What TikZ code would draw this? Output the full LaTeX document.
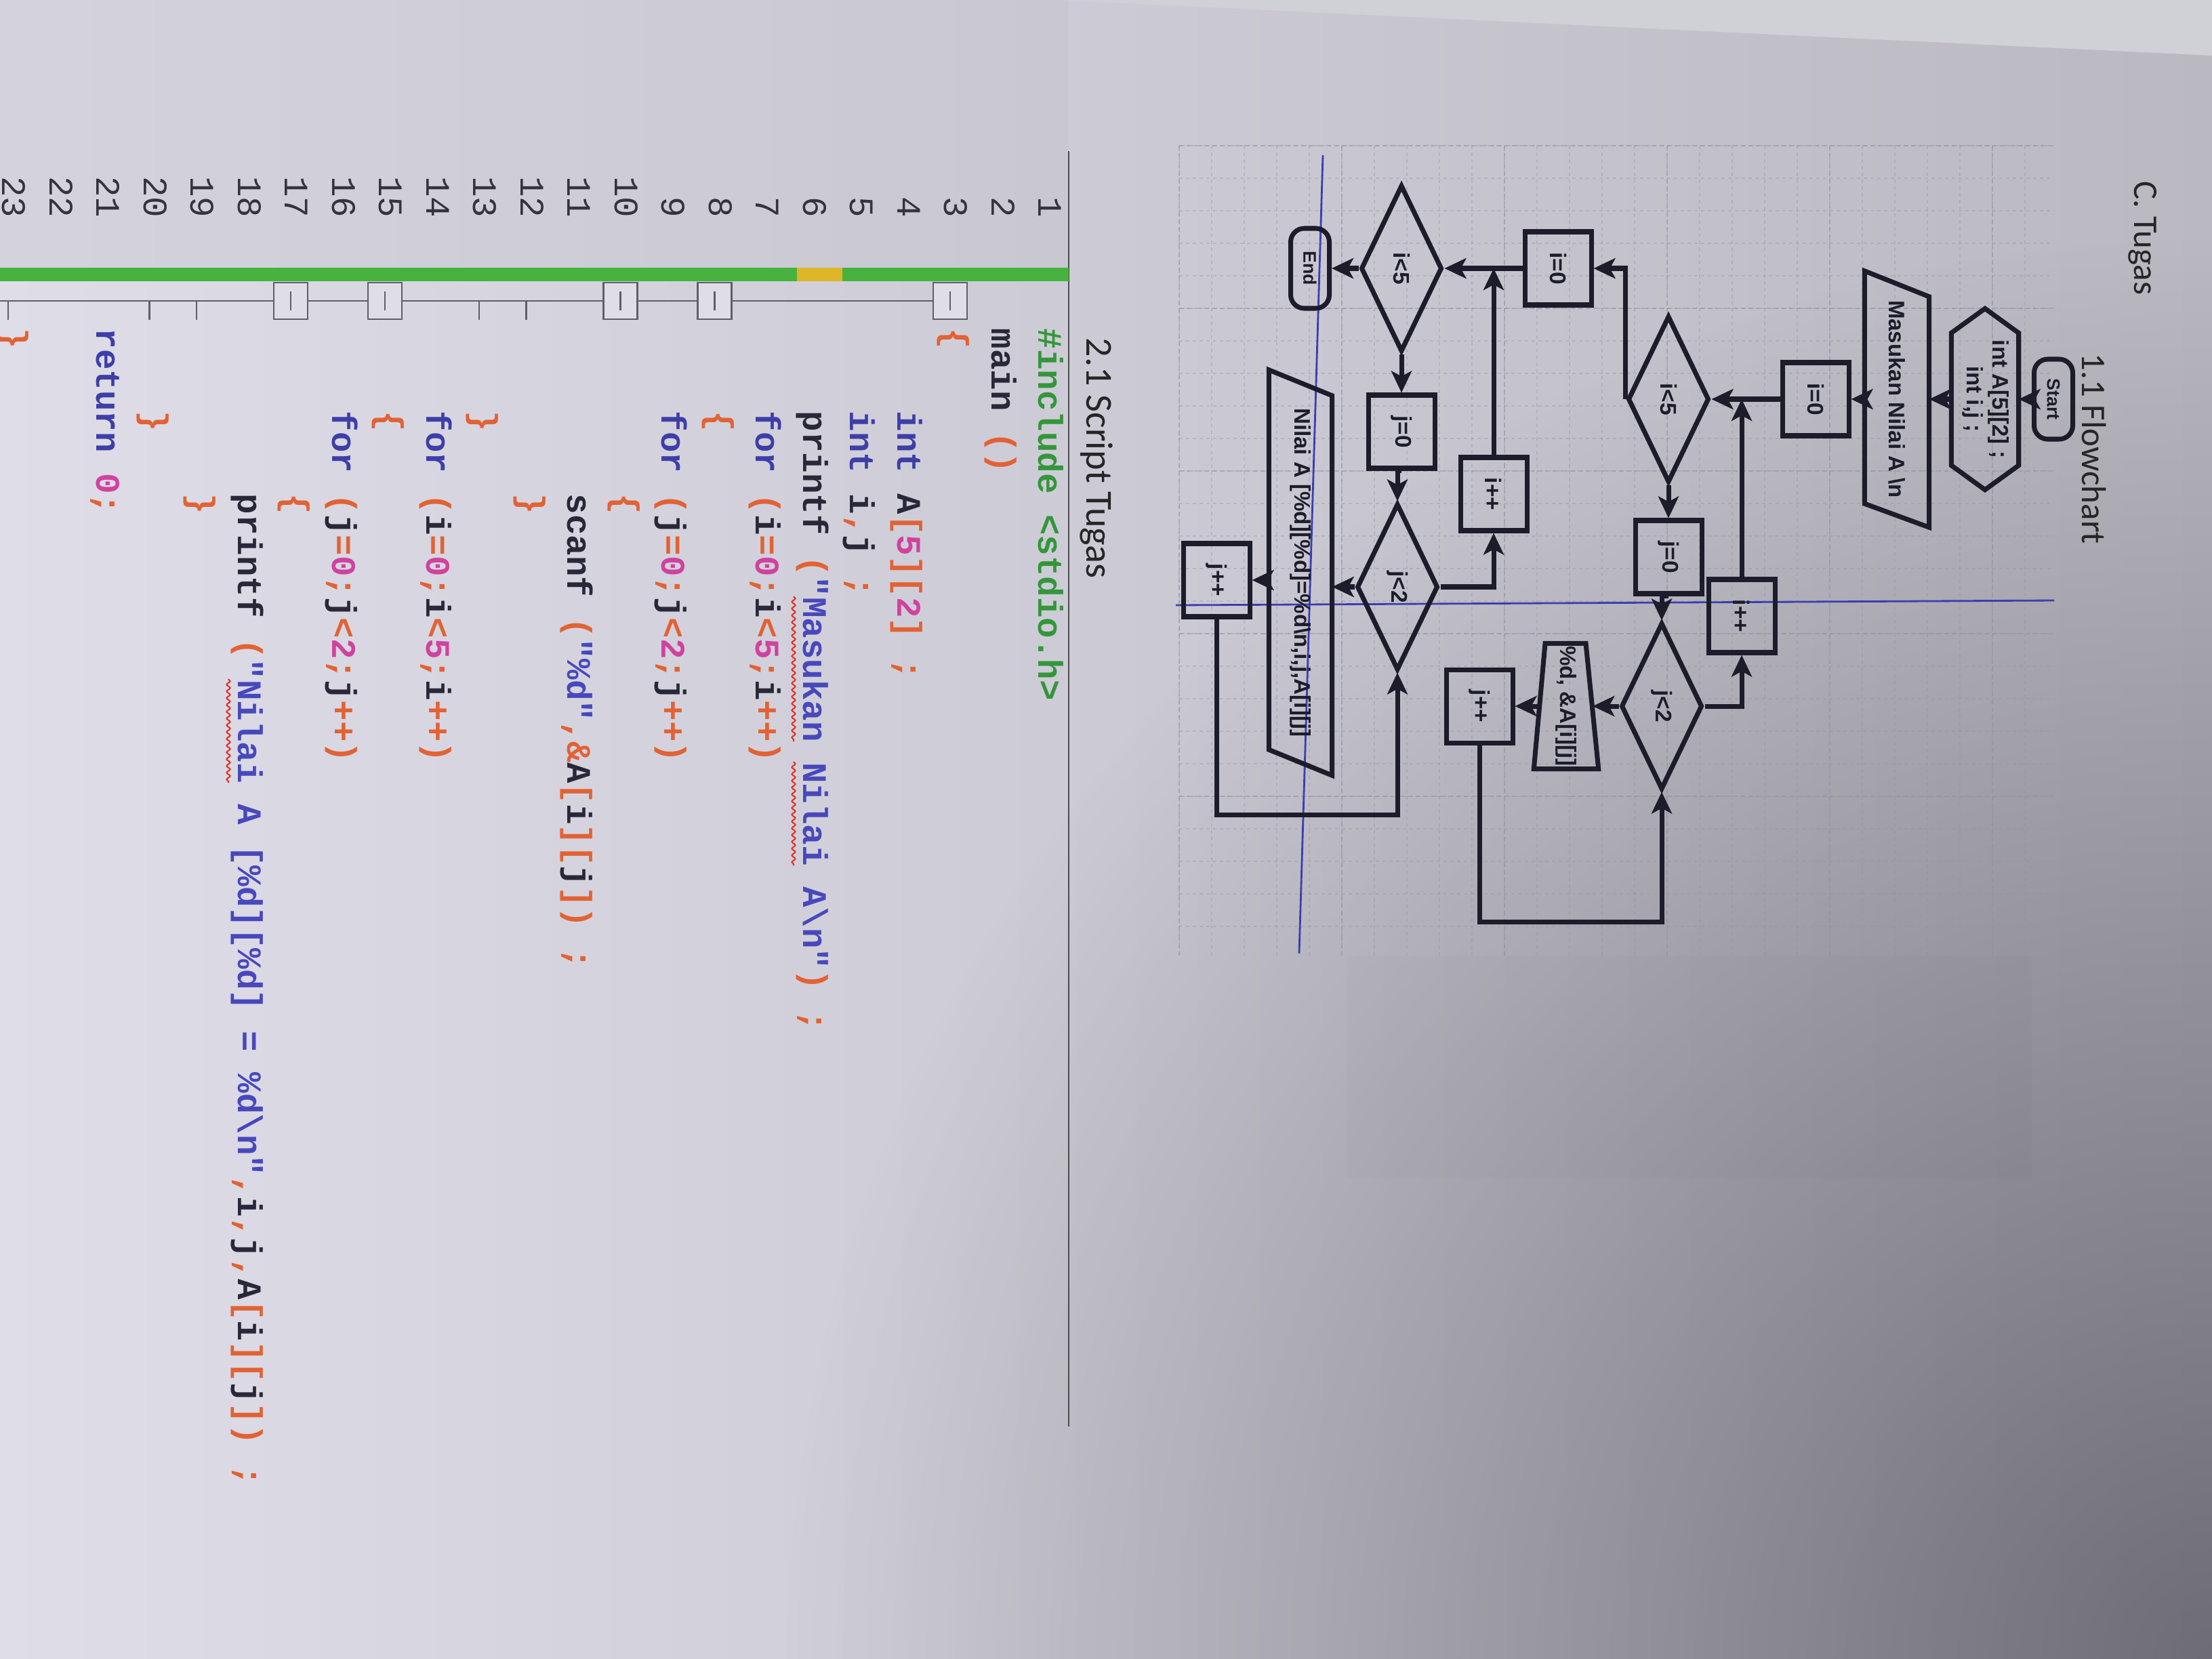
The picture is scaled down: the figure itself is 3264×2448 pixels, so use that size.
\documentclass[tikz,border=0pt]{standalone}
\usepackage{fontspec}
\setmainfont{Carlito}
\newfontfamily\flowfont{Liberation Sans}
\newfontfamily\codefont{Liberation Mono}
\usetikzlibrary{shapes.geometric,arrows.meta,fadings,decorations.pathmorphing}

\definecolor{paperL}{RGB}{222,221,232}
\definecolor{paperM}{RGB}{207,206,216}
\definecolor{paperR}{RGB}{186,185,194}
\definecolor{offpage}{RGB}{208,208,215}
\definecolor{gutterc}{RGB}{196,195,203}
\definecolor{shadowc}{RGB}{60,58,66}
\definecolor{ink}{RGB}{28,28,42}
\definecolor{guide}{RGB}{60,62,175}
\definecolor{gridc}{RGB}{145,145,160}
\definecolor{cbgreen}{RGB}{72,178,62}
\definecolor{cbyellow}{RGB}{222,182,40}
\definecolor{cpre}{RGB}{52,150,58}
\definecolor{ckw}{RGB}{62,62,168}
\definecolor{cid}{RGB}{40,40,56}
\definecolor{cop}{RGB}{226,98,52}
\definecolor{cnum}{RGB}{208,66,158}
\definecolor{cstr}{RGB}{72,72,188}
\definecolor{lnumc}{RGB}{52,52,62}
\definecolor{foldc}{RGB}{95,95,105}
\definecolor{squig}{RGB}{222,52,40}

\tikzfading[name=fadeBR, inner color=transparent!0, outer color=transparent!100]

\newcommand\cKw[1]{\textcolor{ckw}{#1}}
\newcommand\cOp[1]{\textcolor{cop}{#1}}
\newcommand\cNum[1]{\textcolor{cnum}{#1}}
\newcommand\cStr[1]{\textcolor{cstr}{#1}}
\newcommand\cId[1]{\textcolor{cid}{#1}}
\newcommand\cPre[1]{\textcolor{cpre}{#1}}
\newcommand\vtext[1]{\rotatebox{-90}{#1}}

\begin{document}
\begin{tikzpicture}[x=0.1mm, y=-0.1mm,
  fbox/.style={draw=ink, line width=2pt, rectangle, minimum width=9.8mm, minimum height=10.8mm, inner sep=0pt, text=ink, font=\flowfont\bfseries\fontsize{9.5}{11.5}\selectfont},
  fdia/.style={draw=ink, line width=2pt, diamond, minimum width=12mm, minimum height=24.6mm, inner sep=0pt, text=ink, font=\flowfont\bfseries\fontsize{9.5}{11.5}\selectfont},
  fterm/.style={draw=ink, line width=2pt, rectangle, rounded corners=2mm, minimum width=5.7mm, minimum height=11.8mm, inner sep=0pt, text=ink, font=\flowfont\bfseries\fontsize{7.6}{9}\selectfont},
  fshape/.style={draw=none, rectangle, inner sep=0pt, text=ink, font=\flowfont\bfseries\fontsize{9.4}{10.6}\selectfont},
  fline/.style={draw=ink, line width=2pt, line join=miter},
  flow/.style={draw=ink, line width=2pt, -{Stealth[length=3.2mm, width=3mm, inset=0.8mm]}},
  guideline/.style={draw=guide, line width=0.8pt},
  gridminor/.style={draw=gridc, line width=0.35pt, opacity=0.33, dash pattern=on 0.5mm off 0.5mm},
  gridmajor/.style={draw=gridc, line width=0.45pt, opacity=0.45, dash pattern=on 0.8mm off 0.4mm},
  heading/.style={rotate=-90, anchor=base west, inner sep=0pt, text=black!85},
  codeline/.style={rotate=-90, anchor=mid west, inner sep=0pt, font=\codefont\bfseries\fontsize{14.46}{17}\selectfont},
  lnum/.style={rotate=-90, anchor=mid east, inner sep=0pt, text=lnumc, font=\codefont\fontsize{14.46}{17}\selectfont},
  foldbox/.style={draw=foldc, line width=0.6pt, fill=paperL, rectangle, minimum width=5mm, minimum height=5.4mm, inner sep=0pt},
  foldline/.style={draw=foldc, line width=0.6pt},
  squiggle/.style={draw=squig, line width=0.6pt, decorate, decoration={snake, amplitude=0.25mm, segment length=1mm}}
]
\useasboundingbox (0,0) rectangle (3264,2448);

% ---------- photo background ----------
\shade[left color=paperL, middle color=paperM, right color=paperR] (0,0) rectangle (3264,2448);
\fill[shadowc, fill opacity=0.6, path fading=fadeBR] (3264,2448) circle[radius=210mm];
\fill[offpage] (1560,0) -- (3264,0) -- (3264,82) -- cycle;
\fill[gutterc, fill opacity=0.35] (0,0) rectangle (1577,395);

% ---------- headings ----------
\node[heading, font=\fontsize{14.5}{17}\selectfont] (hC) at (3149,267) {C. Tugas};
\node[heading, font=\fontsize{14.5}{17}\selectfont] (hF) at (3072,521) {1.1 Flowchart};
\node[heading, font=\fontsize{16}{19}\selectfont] (hS) at (1603,498) {2.1 Script Tugas};

% ---------- flowchart canvas ----------
\fill[black, fill opacity=0.015] (1988,1410) rectangle (2998,1739);
\foreach \gx in {1740,1788,...,3030} \draw[gridminor] (\gx,215) -- (\gx,1410);
\foreach \gy in {215,263,...,1410} \draw[gridminor] (1740,\gy) -- (3030,\gy);
\foreach \gx in {1740,1980,...,3030} \draw[gridmajor] (\gx,215) -- (\gx,1410);
\foreach \gy in {215,455,...,1410} \draw[gridmajor] (1740,\gy) -- (3030,\gy);

% guide lines
\coordinate (gh1) at (1735,893);
\coordinate (gh2) at (3031,886);
\coordinate (gv1) at (1952,229);
\coordinate (gv2) at (1917,1407);
\draw[guideline] (gh1) -- (gh2);
\draw[guideline] (gv1) -- (gv2);

% nodes, first loop
\node[fterm] (start) at (3030,589) {\vtext{Start}};
\node[fshape, minimum width=9.8mm, minimum height=26.6mm] (decl) at (2929,589)
  {\vtext{\begin{tabular}{@{}c@{}}int A[5][2] ;\\ int i,j ;\end{tabular}}};
\draw[fline] (decl.north) -- ([yshift=-3.6mm]decl.north east) -- ([yshift=3.6mm]decl.south east)
  -- (decl.south) -- ([yshift=3.6mm]decl.south west) -- ([yshift=-3.6mm]decl.north west) -- cycle;
\node[fshape, minimum width=9.4mm, minimum height=37.7mm] (masukan) at (2799,589)
  {\vtext{Masukan Nilai A \textbackslash n}};
\draw[fline] (masukan.north west) -- ([yshift=-3.8mm]masukan.north east) -- (masukan.south east)
  -- ([yshift=3.5mm]masukan.south west) -- cycle;
\node[fbox] (i0a) at (2679,589) {\vtext{i=0}};
\node[fdia] (ilt5a) at (2462,589) {\vtext{i<5}};
\node[fbox] (j0a) at (2462,822) {\vtext{j=0}};
\node[fdia] (jlt2a) at (2452,1042) {\vtext{j<2}};
\node[fshape, minimum width=7.7mm, minimum height=18.4mm] (scan) at (2311,1042) {\vtext{\%d, \&A[i][j]}};
\draw[fline] ([xshift=-0.1mm]scan.north) ++(-30,0) -- ++(60,0) -- ([xshift=0.85mm]scan.south east)
  -- ([xshift=-0.85mm]scan.south west) -- cycle;
\node[fbox] (jppa) at (2183,1042) {\vtext{j++}};
\node[fbox] (ippa) at (2570,909) {\vtext{i++}};

% nodes, second loop
\node[fbox] (i0b) at (2299,396) {\vtext{i=0}};
\node[fdia] (ilt5b) at (2068,396) {\vtext{i<5}};
\node[fterm] (endn) at (1933,396) {\vtext{End}};
\node[fbox] (j0b) at (2068,637) {\vtext{j=0}};
\node[fdia] (jlt2b) at (2062,866) {\vtext{j<2}};
\node[fshape, minimum width=9.2mm, minimum height=59.7mm] (nilai) at (1919,845)
  {\vtext{Nilai A [\%d][\%d]=\%d\textbackslash n,i,j,A[i][j]}};
\draw[fline] (nilai.north west) -- ([yshift=-3.8mm]nilai.north east) -- (nilai.south east)
  -- ([yshift=3.8mm]nilai.south west) -- cycle;
\node[fbox] (jppb) at (1795,856) {\vtext{j++}};
\node[fbox] (ippb) at (2204,729) {\vtext{i++}};

\coordinate (loopA) at (2300,1360);
\coordinate (loopB) at (1900,1202);

% connectors, first loop
\draw[flow] (start.west) -- (decl.east);
\draw[flow] (decl.west) -- (masukan.east);
\draw[flow] (masukan.west) -- (i0a.east);
\draw[flow] (i0a.west) -- (ilt5a.east);
\draw[flow] (ilt5a.south) -- (j0a.north);
\draw[flow] (j0a.south) -- (j0a.south -| jlt2a.north) -- (jlt2a.north);
\draw[flow] (jlt2a.west) -- (jlt2a.west -| scan.east);
\draw[flow] (scan.west) -- (jppa.east);
\draw[flow] (jppa.south) -- (jppa.south |- loopA) -- (jlt2a.south |- loopA) -- (jlt2a.south);
\draw[flow] (jlt2a.east) -| (ippa.south);
\draw[flow] (ippa.north) -- (ippa.north |- i0a.west);
\draw[flow] (ilt5a.west) |- (i0b.east);

% connectors, second loop
\draw[flow] (i0b.west) -- (ilt5b.east);
\draw[flow] (ippb.north) -- (ippb.north |- i0b.west);
\draw[flow] (ilt5b.west) -- (endn.east);
\draw[flow] (ilt5b.south) -- (j0b.north);
\draw[flow] (j0b.south) -- (j0b.south -| jlt2b.north) -- (jlt2b.north);
\draw[flow] (jlt2b.west) -- (jlt2b.west -| nilai.east);
\draw[flow] (nilai.west |- jppb.east) -- (jppb.east);
\draw[flow] (jppb.south) -- (jppb.south |- loopB) -- (jlt2b.south |- loopB) -- (jlt2b.south);
\draw[flow] (jlt2b.east) -| (ippb.south);

% ---------- code listing ----------
\coordinate (rule1) at (1577,223);
\coordinate (rule2) at (1577,2105);
\draw[black!70, line width=0.5pt] (rule1) -- (rule2);

% change bar
\fill[cbgreen] (0,395) rectangle (1577,415);
\fill[cbyellow] (1176,395) rectangle (1243,415);

% line numbers
\foreach \n in {1,...,23} {
  \pgfmathsetmacro\lx{1541-(\n-1)*69.5}
  \node[lnum] (ln\n) at (\lx,322) {\n};
}

% fold markers
\coordinate (foldend) at (0,444);
\draw[foldline] (foldend) -- (1402,444);
\foreach \n in {12,13,19,20,23} {
  \pgfmathsetmacro\lx{1541-(\n-1)*69.5}
  \draw[foldline] (\lx,444) -- (\lx,472);
}
\foreach \n in {3,8,10,15,17} {
  \pgfmathsetmacro\lx{1541-(\n-1)*69.5}
  \node[foldbox] (fb\n) at (\lx,444) {};
  \draw[foldline] (\lx,430) -- (\lx,458);
}

% code text
\node[codeline] (c1)  at (1541,484)  {\cPre{\#include <stdio.h>}};
\node[codeline] (c2)  at (1471.5,484) {\cId{main} \cOp{()}};
\node[codeline] (c3)  at (1402,484)  {\cOp{\{}};
\node[codeline] (c4)  at (1332.5,606) {\cKw{int} \cId{A}\cOp{[}\cNum{5}\cOp{][}\cNum{2}\cOp{]} \cOp{;}};
\node[codeline] (c5)  at (1263,606)  {\cKw{int} \cId{i}\cOp{,}\cId{j} \cOp{;}};
\node[codeline] (c6)  at (1193.5,606) {\cId{printf} \cOp{(}\cStr{"Masukan Nilai A\textbackslash n"}\cOp{)} \cOp{;}};
\node[codeline] (c7)  at (1124,606)  {\cKw{for} \cOp{(}\cId{i}\cOp{=}\cNum{0}\cOp{;}\cId{i}\cOp{<}\cNum{5}\cOp{;}\cId{i}\cOp{++)}};
\node[codeline] (c8)  at (1054.5,606) {\cOp{\{}};
\node[codeline] (c9)  at (985,606)   {\cKw{for} \cOp{(}\cId{j}\cOp{=}\cNum{0}\cOp{;}\cId{j}\cOp{<}\cNum{2}\cOp{;}\cId{j}\cOp{++)}};
\node[codeline] (c10) at (915.5,728) {\cOp{\{}};
\node[codeline] (c11) at (846,728)   {\cId{scanf} \cOp{(}\cStr{"\%d"}\cOp{,\&}\cId{A}\cOp{[}\cId{i}\cOp{][}\cId{j}\cOp{])} \cOp{;}};
\node[codeline] (c12) at (776.5,728) {\cOp{\}}};
\node[codeline] (c13) at (707,606)   {\cOp{\}}};
\node[codeline] (c14) at (637.5,606) {\cKw{for} \cOp{(}\cId{i}\cOp{=}\cNum{0}\cOp{;}\cId{i}\cOp{<}\cNum{5}\cOp{;}\cId{i}\cOp{++)}};
\node[codeline] (c15) at (568,606)   {\cOp{\{}};
\node[codeline] (c16) at (498.5,606) {\cKw{for} \cOp{(}\cId{j}\cOp{=}\cNum{0}\cOp{;}\cId{j}\cOp{<}\cNum{2}\cOp{;}\cId{j}\cOp{++)}};
\node[codeline] (c17) at (429,728)   {\cOp{\{}};
\node[codeline] (c18) at (359.5,728) {\cId{printf} \cOp{(}\cStr{"Nilai A [\%d][\%d] = \%d\textbackslash n"}\cOp{,}\cId{i}\cOp{,}\cId{j}\cOp{,}\cId{A}\cOp{[}\cId{i}\cOp{][}\cId{j}\cOp{])} \cOp{;}};
\node[codeline] (c19) at (290,728)   {\cOp{\}}};
\node[codeline] (c20) at (220.5,606) {\cOp{\}}};
\node[codeline] (c21) at (151,484)   {\cKw{return} \cNum{0}\cOp{;}};
\node[codeline] (c23) at (14,484)    {\cOp{\}}};

% spelling squiggles
\draw[squiggle] (1171,880) -- (1171,1094);
\draw[squiggle] (1171,1124) -- (1171,1277);
\draw[squiggle] (337,1002) -- (337,1155);

\end{tikzpicture}
\end{document}
